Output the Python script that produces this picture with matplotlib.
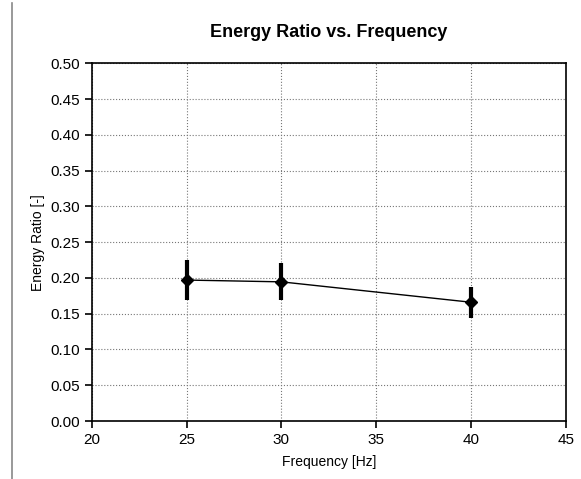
import matplotlib
matplotlib.use("Agg")
import matplotlib.pyplot as plt
from matplotlib.lines import Line2D

plt.rcParams['font.family'] = ['Liberation Sans', 'DejaVu Sans']

# data
frequency = [25, 30, 40]
energy_ratio = [0.197, 0.1945, 0.166]
err_low = [0.028, 0.026, 0.022]
err_high = [0.028, 0.026, 0.021]

fig = plt.figure(figsize=(5.81, 4.79), dpi=100)
ax = fig.add_axes([0.158, 0.121, 0.816, 0.747])

ax.errorbar(frequency, energy_ratio, yerr=[err_low, err_high], color='black',
            marker='D', markersize=6, linewidth=1, elinewidth=3, capsize=0, zorder=3)

ax.set_xlim(20, 45)
ax.set_ylim(0, 0.5)
ax.set_xticks([20, 25, 30, 35, 40, 45])
ax.set_yticks([i * 0.05 for i in range(11)])
ax.set_yticklabels([f"{i * 0.05:.2f}" for i in range(11)])
ax.grid(True, linestyle=':', color='#777777', linewidth=0.8)
ax.tick_params(direction='out', length=5, width=1.2, labelsize=11, color='black')
for s in ax.spines.values():
    s.set_linewidth(1.2)

ax.set_xlabel('Frequency [Hz]', fontsize=10, labelpad=6)
ax.set_ylabel('Energy Ratio [-]', fontsize=10, labelpad=4)
ax.set_title('Energy Ratio vs. Frequency', fontsize=13, fontweight='bold', pad=19)

fig.add_artist(Line2D([12 / 581, 12 / 581], [0, 1 - 3 / 479], color='#888888', linewidth=1.2))

fig.savefig('out.png', dpi=100)
